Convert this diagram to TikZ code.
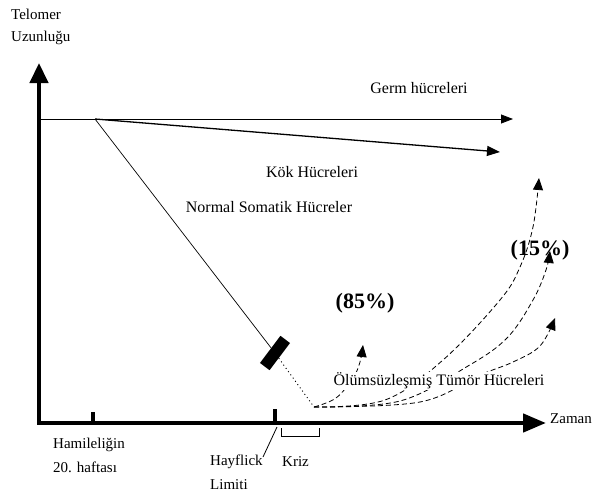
\documentclass[tikz,border=0pt]{standalone}
\usepackage{fontspec}
\setmainfont{Liberation Serif}
\usetikzlibrary{arrows.meta}
\begin{document}
\begin{tikzpicture}[x=1pt,y=-1pt,
  lbl/.style={font=\fontsize{16}{18}\selectfont, inner sep=0pt},
  axlbl/.style={font=\fontsize{15}{17}\selectfont, inner sep=0pt},
  pct/.style={font=\bfseries\fontsize{22}{24}\selectfont, inner sep=0pt},
  axisline/.style={line width=4.5pt, line join=miter, {Triangle[length=20pt,width=18pt]}-{Triangle[length=23pt,width=18pt]}},
  thinarrow/.style={line width=0.8pt, -{Triangle[length=12pt,width=9pt]}},
  kokarrow/.style={line width=1.3pt, -{Triangle[length=13pt,width=10pt]}},
  dsh/.style={dash pattern=on 5pt off 3pt, line width=0.8pt, -{Triangle[length=12pt,width=10pt]}},
  tickmark/.style={line width=3.5pt},
  bar/.style={fill=black, draw=none, minimum width=34pt, minimum height=12pt, inner sep=0pt}]
\useasboundingbox (0,0) rectangle (597,495);

% axes
\coordinate (ytip) at (39,63);
\coordinate (xtip) at (546,423);
\draw[axisline] (ytip) |- (xtip);

% labels of axes
\node[axlbl, anchor=west] (tel) at (11,14) {Telomer};
\node[axlbl, anchor=west] (uzn) at (11,38) {Uzunluğu};
\node[axlbl, anchor=west] (zaman) at (550,419) {Zaman};

% ticks
\coordinate (t1a) at (93,412); \coordinate (t1b) at (93,423);
\coordinate (t2a) at (275,409); \coordinate (t2b) at (275,423);
\draw[tickmark] (t1a) -- (t1b);
\draw[tickmark] (t2a) -- (t2b);
\node[axlbl, anchor=west] (ham) at (53,445) {Hamileliğin};
\node[axlbl, anchor=west] (haf) at (53,467) {20. haftası};
\node[axlbl, anchor=west] (hay) at (210,462) {Hayflick};
\node[axlbl, anchor=west] (lim) at (210,485) {Limiti};
\coordinate (sl1) at (277,427);
\coordinate (sl2) at (263,457);
\draw[line width=0.8pt] (sl1) -- (sl2);
\coordinate (k1) at (281,428);
\coordinate (k2) at (319,436);
\draw[line width=0.8pt] (k1) |- (k2) -- ++(0,-8);
\node[axlbl, anchor=west] (kriz) at (282,462) {Kriz};

% germ, kok, normal lines
\coordinate (gstart) at (39,119);
\coordinate (gtip) at (513,119);
\coordinate (split) at (95,119);
\coordinate (ktip) at (500,152);
\draw[thinarrow] (gstart) -- (gtip);
\draw[kokarrow] (split) -- (ktip);
\node[lbl] (germ) at (419,88) {Germ hücreleri};
\node[lbl] (kok) at (312,172) {Kök Hücreleri};
\node[lbl] (norm) at (269,207) {Normal Somatik Hücreler};

\node[bar, rotate=53] (blk) at (275,353) {};
\draw[line width=0.7pt] (split) -- (blk);

% crisis
\coordinate (O) at (314,407);
\draw[line width=0.9pt, dash pattern=on 1pt off 3pt] (blk) -- (O);

\coordinate (tip85) at (363,345);
\coordinate (tipA) at (539,178);
\coordinate (tipB) at (550,251);
\coordinate (tipC) at (555,318);

\draw[dsh] plot[smooth, tension=0.6] coordinates {(O) (336,398) (353,378) (360,362) (tip85)};
\draw[dsh] plot[smooth, tension=0.6] coordinates {(O) (385,400) (443,360) (500,300) (520,267) (533,227) (tipA)};
\draw[dsh] plot[smooth, tension=0.6] coordinates {(O) (400,401) (468,366) (507,338) (533,300) (546,270) (tipB)};
\draw[dsh] plot[smooth, tension=0.6] coordinates {(O) (420,402) (480,375) (513,362) (540,346) (tipC)};

\node[lbl, fill=white, inner sep=1pt] (olum) at (439,381) {Ölümsüzleşmiş Tümör Hücreleri};
\node[pct] (p85) at (365,303) {(85\%)};
\node[pct] (p15) at (540,250) {(15\%)};
\end{tikzpicture}
\end{document}
